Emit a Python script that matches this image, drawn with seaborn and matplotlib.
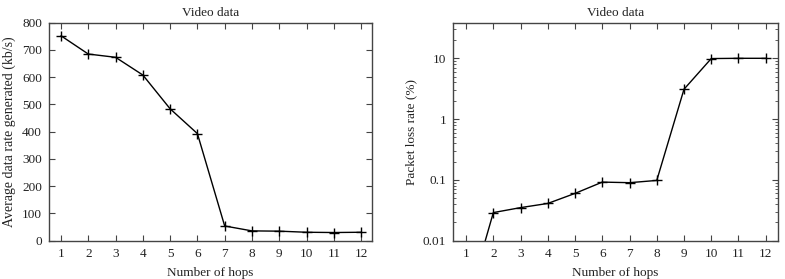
import matplotlib
matplotlib.use("Agg")
import matplotlib.pyplot as plt
import matplotlib.ticker as mticker
import seaborn as sns
import pandas as pd

hops = [1, 2, 3, 4, 5, 6, 7, 8, 9, 10, 11, 12]
data_rate = [752, 685, 673, 608, 484, 393, 54, 36, 35, 31, 30, 31]
loss_rate = [0.0008, 0.029, 0.035, 0.041, 0.060, 0.092, 0.090, 0.098, 3.1, 9.9, 10.0, 10.0]
title = "Video data"
xlabel = "Number of hops"
ylabel_left = "Average data rate generated (kb/s)"
ylabel_right = "Packet loss rate (%)"

sns.set_style("ticks")
plt.rcParams['font.family'] = ['Liberation Serif', 'DejaVu Serif']
plt.rcParams['font.size'] = 9
plt.rcParams['axes.edgecolor'] = '#444444'
plt.rcParams['xtick.color'] = '#444444'
plt.rcParams['ytick.color'] = '#444444'
plt.rcParams['xtick.labelcolor'] = '#222222'
plt.rcParams['ytick.labelcolor'] = '#222222'

df = pd.DataFrame({"hops": hops, "rate": data_rate, "loss": loss_rate})

fig = plt.figure(figsize=(7.85, 2.79), dpi=100)
ax1 = fig.add_axes([49/785, 1-240.7/279, (372-49)/785, (240.7-22.7)/279])
ax2 = fig.add_axes([453.3/785, 1-240.7/279, (777.7-453.3)/785, (240.7-22.7)/279])

for ax, col in ((ax1, "rate"), (ax2, "loss")):
    sns.lineplot(data=df, x="hops", y=col, ax=ax, color="black", linewidth=1.0,
                 marker="+", markersize=7, markeredgewidth=1.0, markeredgecolor="black")
    ax.set_title(title, fontsize=9.5, pad=5, color="#222222")
    ax.set_xlabel(xlabel, fontsize=9.5, color="#222222", labelpad=5)
    ax.set_xticks(hops)
    ax.tick_params(direction="in", top=True, right=True, length=4, width=0.8,
                   labelsize=9.5, pad=5)
    ax.tick_params(which="minor", direction="in", left=True, right=True, length=2.5, width=0.6)
    for s in ax.spines.values():
        s.set_linewidth(1.0)
        s.set_visible(True)

ax1.set_xlim(0.56, 12.4)
ax1.set_ylim(0, 800)
ax1.set_yticks(range(0, 801, 100))
ax1.set_ylabel(ylabel_left, fontsize=10, color="#222222", labelpad=4)

ax2.set_yscale("log")
ax2.set_xlim(0.53, 12.44)
ax2.set_ylim(0.01, 38.5)
ax2.set_yticks([0.01, 0.1, 1, 10])
ax2.yaxis.set_major_formatter(mticker.FuncFormatter(lambda v, p: f"{v:g}"))
ax2.yaxis.set_minor_locator(mticker.LogLocator(base=10, subs=range(2, 10)))
ax2.yaxis.set_minor_formatter(mticker.NullFormatter())
ax2.set_ylabel(ylabel_right, fontsize=9.5, color="#222222", labelpad=4)

fig.savefig("out.png", dpi=100)
